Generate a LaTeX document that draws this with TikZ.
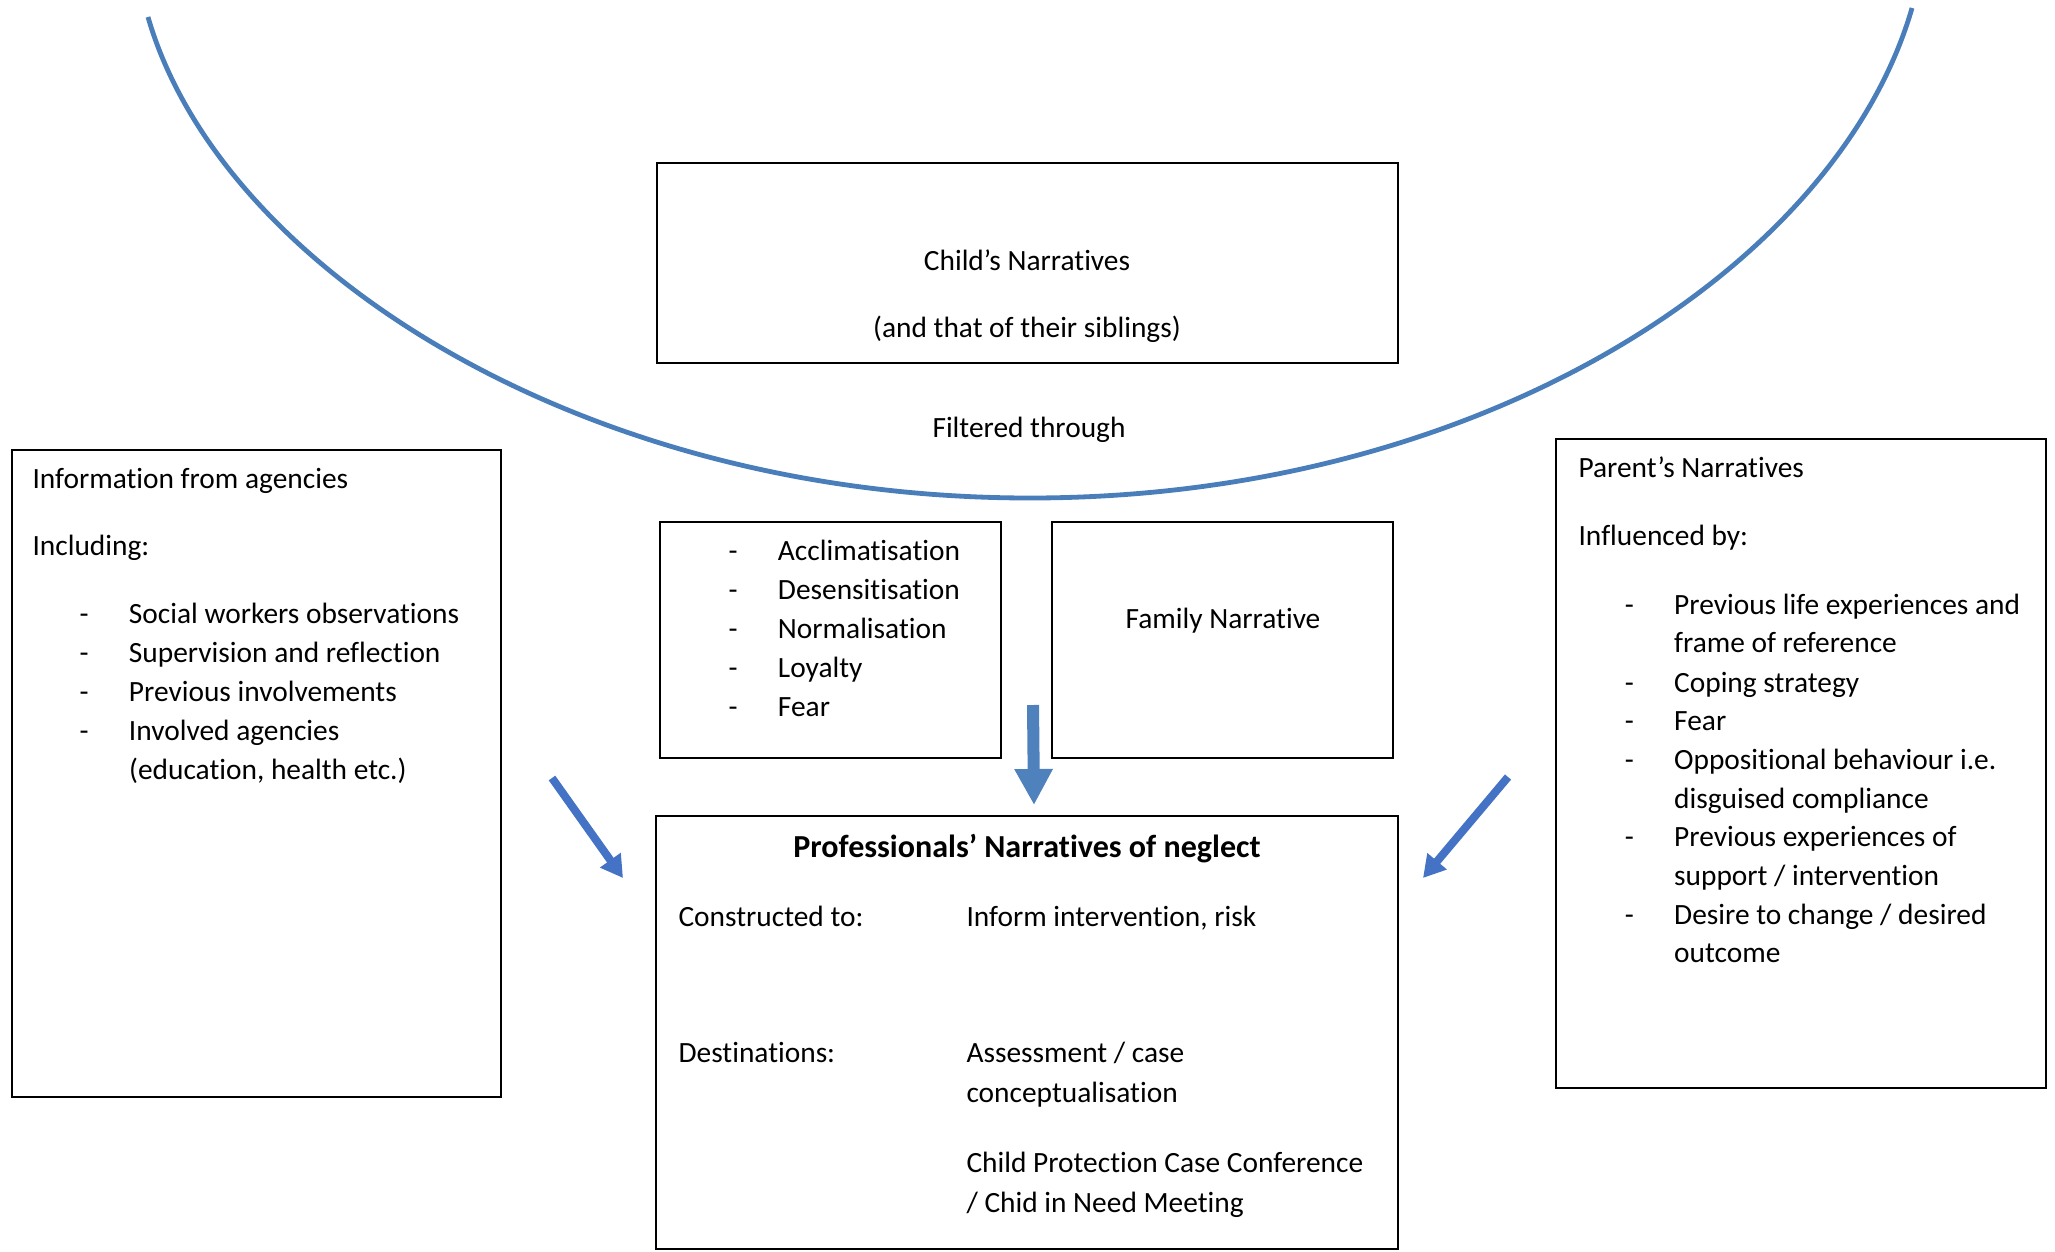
\documentclass[tikz,border=0pt]{standalone}
\usepackage{fontspec}
\setmainfont{Carlito}[Ligatures=NoCommon]
\usetikzlibrary{arrows.meta,fit}
\definecolor{arcblue}{HTML}{4A7EBB}
\definecolor{arrowblue}{HTML}{4472C4}
\definecolor{downblue}{HTML}{4F81BD}
\newcommand{\dashitem}[1]{\makebox[18.5pt][l]{-}#1}
\tikzset{
  box/.style={draw, line width=0.75pt, inner sep=0pt},
  txt/.style={anchor=base west, inner sep=0pt},
  ctxt/.style={anchor=base, inner sep=0pt},
  bluearc/.style={draw=arcblue, line width=1.8pt},
  sidearrow/.style={draw=arrowblue, line width=3pt, -{Triangle[width=9pt, length=8.2pt]}},
  downarrow/.style={draw=downblue, line width=4.5pt, -{Triangle[width=13.5pt, length=13.5pt]}}
}
\begin{document}
\begin{tikzpicture}[x=0.01316cm, y=-0.01316cm, font=\fontsize{11pt}{14.7pt}\selectfont]
		\useasboundingbox (0,0) rectangle (2055,1251);
		% Filter arc
		\draw[bluearc] (148,17) .. controls (220,267) and (580,498) .. (1030,498)
			.. controls (1480,498) and (1837,268) .. (1912,8);
		
		% Child's narratives
		\node[box, fit={(657,163) (1398,363)}] (child) {};
		\node[ctxt] (child1) at (1027,270) {Child’s Narratives};
		\node[ctxt] (child2) at (1027,337) {(and that of their siblings)};
		\node[ctxt] (filtered) at (1029,437) {Filtered through};
		
		% Information from agencies
		\node[box, fit={(12,450) (501,1097)}] (agencies) {};
		\node[txt] (ag0) at (32,488) {Information from agencies};
		\node[txt] (agincl) at (32,555) {Including:};
		\node[txt] (ag1) at (79,623) {\dashitem{Social workers observations}};
		\node[txt] (ag2) at (79,662) {\dashitem{Supervision and reflection}};
		\node[txt] (ag3) at (79,701) {\dashitem{Previous involvements}};
		\node[txt] (ag4) at (79,740) {\dashitem{Involved agencies}};
		\node[txt] (ag4b) at (128.6,779) {(education, health etc.)};
		
		% Filters
		\node[box, fit={(660,522) (1001,758)}] (filters) {};
		\node[txt] (f1) at (728,560) {\dashitem{Acclimatisation}};
		\node[txt] (f2) at (728,599) {\dashitem{Desensitisation}};
		\node[txt] (f3) at (728,638) {\dashitem{Normalisation}};
		\node[txt] (f4) at (728,677) {\dashitem{Loyalty}};
		\node[txt] (f5) at (728,716) {\dashitem{Fear}};
		
		% Family narrative
		\node[box, fit={(1052,522) (1393,758)}] (family) {};
		\node[ctxt] (familytxt) at (1223,628) {Family Narrative};
		
		% Parent's narratives
		\node[box, fit={(1556,439) (2046,1088)}] (parents) {};
		\node[txt] (p0) at (1578,477) {Parent’s Narratives};
		\node[txt] (pinfl) at (1578,545.5) {Influenced by:};
		\node[txt] (p1) at (1624.2,614) {\dashitem{Previous life experiences and}};
		\node[txt] (p1b) at (1673.6,652) {frame of reference};
		\node[txt] (p2) at (1624.2,692) {\dashitem{Coping strategy}};
		\node[txt] (p3) at (1624.2,730) {\dashitem{Fear}};
		\node[txt] (p4) at (1624.2,769) {\dashitem{Oppositional behaviour i.e.}};
		\node[txt] (p4b) at (1673.6,808) {disguised compliance};
		\node[txt] (p5) at (1624.2,846) {\dashitem{Previous experiences of}};
		\node[txt] (p5b) at (1673.6,885) {support / intervention};
		\node[txt] (p6) at (1624.2,924) {\dashitem{Desire to change / desired}};
		\node[txt] (p6b) at (1673.6,962) {outcome};
		
		% Professionals' narratives
		\node[box, fit={(656,816) (1398,1249)}] (prof) {};
		\node[ctxt, font=\fontsize{12pt}{14.7pt}\selectfont\bfseries] (proftitle) at (1027,857) {Professionals’ Narratives of neglect};
		\node[txt] (constr) at (678,926) {Constructed to:};
		\node[txt] (inform) at (966,926) {Inform intervention, risk};
		\node[txt] (dest) at (678,1062) {Destinations:};
		\node[txt] (d1) at (966,1062) {Assessment / case};
		\node[txt] (d1b) at (966,1102) {conceptualisation};
		\node[txt] (d2) at (966,1172) {Child Protection Case Conference};
		\node[txt] (d2b) at (966,1212) {/ Chid in Need Meeting};
		
		% Arrows into professionals' box
		\coordinate (la) at (552,778);
		\coordinate (lb) at (623,878);
		\coordinate (da) at (1033,705);
		\coordinate (db) at (1034,805);
		\coordinate (ra) at (1508,777);
		\coordinate (rb) at (1423,878);
		\draw[sidearrow] (la) -- (lb);
		\draw[downarrow] (da) -- (db);
		\draw[sidearrow] (ra) -- (rb);
		
	\end{tikzpicture}
\end{document}
